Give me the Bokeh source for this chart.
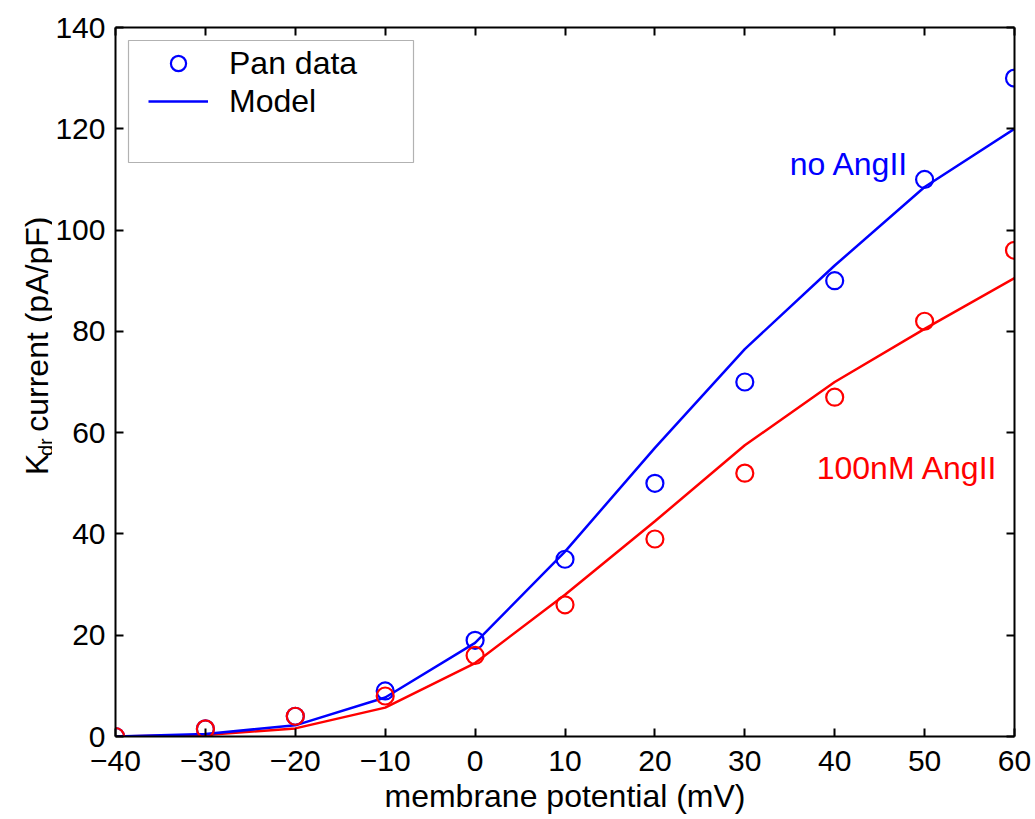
import math
from bokeh.plotting import figure
from bokeh.layouts import row
from bokeh.models import (Range1d, LinearAxis, FixedTicker, Legend, LegendItem,
                          BoxAnnotation, Label)
from bokeh.embed import file_html
from bokeh.resources import INLINE

# ---- data ----
voltage = [-40, -30, -20, -10, 0, 10, 20, 30, 40, 50, 60]
pan_no_angii = [0, 1.5, 4, 9, 19, 35, 50, 70, 90, 110, 130]
pan_angii = [0, 1.5, 4, 8, 16, 26, 39, 52, 67, 82, 96]
model_no_angii = [0, 0.5, 2.2, 7.7, 18.5, 36.5, 57, 76.5, 93, 108.5, 120]
model_angii = [0, 0.3, 1.6, 5.7, 14.5, 28, 42.5, 57.5, 70, 80.5, 90.5]

x_ticks = [-40, -30, -20, -10, 0, 10, 20, 30, 40, 50, 60]
x_tick_labels = ["\u221240", "\u221230", "\u221220", "\u221210", "0", "10", "20", "30", "40", "50", "60"]
y_ticks = [0, 20, 40, 60, 80, 100, 120, 140]
y_tick_labels = ["0", "20", "40", "60", "80", "100", "120", "140"]

legend_labels = ["Pan data", "Model"]
note_no = "no AngII"
note_ang = "100nM AngII"
x_label = "membrane potential (mV)"
y_label_main = "K"
y_label_sub = "dr"
y_label_rest = "current (pA/pF)"

BLUE = "#0000ff"
RED = "#ff0000"
FONT = "Liberation Sans"
W, H = 1035, 819
LABEL_W = 52

# ---- narrow strip that carries the y-axis title (K_dr current (pA/pF)) ----
lab = figure(width=LABEL_W, height=H, output_backend="svg", toolbar_location=None,
             x_range=Range1d(0, LABEL_W), y_range=Range1d(0, H),
             min_border=0, x_axis_location=None, y_axis_location=None)
lab.outline_line_color = None
lab.xgrid.visible = False
lab.ygrid.visible = False
lab.border_fill_color = "white"
lab.background_fill_color = "white"
ang = math.pi / 2
for txt, bx, sy, fs in [(y_label_main, 36, H - 517, "32px"),
                        (y_label_sub, 45, H - 495, "20px"),
                        (y_label_rest, 36, H - 467, "32px")]:
    lab.add_layout(Label(x=bx, y=sy, angle=ang, text=txt, text_font=FONT,
                         text_font_size=fs, text_color="black",
                         text_baseline="alphabetic", text_align="left"))

# ---- main plot ----
p = figure(width=W - LABEL_W, height=H, output_backend="svg", toolbar_location=None,
           x_range=Range1d(-40, 60), y_range=Range1d(0, 140),
           min_border_left=115 - LABEL_W, min_border_right=21,
           min_border_top=27, min_border_bottom=83,
           x_axis_location=None, y_axis_location=None)
p.outline_line_color = None
p.xgrid.visible = False
p.ygrid.visible = False
p.background_fill_color = "white"
p.border_fill_color = "white"


def style_axis(ax, ticks, labels, show_labels):
    ax.ticker = FixedTicker(ticks=ticks)
    ax.major_label_overrides = {t: l for t, l in zip(ticks, labels)}
    ax.axis_line_width = 2
    ax.axis_line_color = "black"
    ax.major_tick_in = 8
    ax.major_tick_out = 0
    ax.major_tick_line_width = 2
    ax.major_tick_line_color = "black"
    ax.minor_tick_line_color = None
    ax.major_label_text_font = FONT
    ax.major_label_text_color = "black"
    if show_labels:
        ax.major_label_text_font_size = "30px"
    else:
        ax.major_label_text_font_size = "0px"
        ax.major_label_standoff = 0


xb = LinearAxis()
style_axis(xb, x_ticks, x_tick_labels, True)
xb.major_label_standoff = 14
xb.axis_label = x_label
xb.axis_label_text_font = FONT
xb.axis_label_text_font_size = "32px"
xb.axis_label_text_font_style = "normal"
xb.axis_label_text_color = "black"
xb.axis_label_standoff = 4
p.add_layout(xb, "below")

yl = LinearAxis()
style_axis(yl, y_ticks, y_tick_labels, True)
yl.major_label_standoff = 10
p.add_layout(yl, "left")

xt = LinearAxis()
style_axis(xt, x_ticks, x_tick_labels, False)
p.add_layout(xt, "above")

yr = LinearAxis()
style_axis(yr, y_ticks, y_tick_labels, False)
p.add_layout(yr, "right")

# ---- data renderers ----
r_model_red = p.line(voltage, model_angii, line_color=RED, line_width=2.5)
r_model_blue = p.line(voltage, model_no_angii, line_color=BLUE, line_width=2.5)
r_pan_blue = p.scatter(voltage, pan_no_angii, marker="circle", size=17, fill_color=None,
                       line_color=BLUE, line_width=2.2)
r_pan_red = p.scatter(voltage, pan_angii, marker="circle", size=17, fill_color=None,
                      line_color=RED, line_width=2.2)

# ---- annotations ----
p.add_layout(Label(x=35, y=113, text=note_no, text_color=BLUE, text_font=FONT,
                   text_font_size="32px", text_baseline="alphabetic", text_align="left"))
p.add_layout(Label(x=38, y=53, text=note_ang, text_color=RED, text_font=FONT,
                   text_font_size="32px", text_baseline="alphabetic", text_align="left"))

# ---- legend ----
box = BoxAnnotation(left=13, right=298, top=696, bottom=574,
                    left_units="screen", right_units="screen",
                    top_units="screen", bottom_units="screen",
                    fill_color="white", fill_alpha=1.0, line_color="black", line_width=1.2)
p.add_layout(box)

legend = Legend(items=[LegendItem(label=legend_labels[0], renderers=[r_pan_blue]),
                       LegendItem(label=legend_labels[1], renderers=[r_model_blue])],
                location=(33, 616), margin=0, padding=0, spacing=0,
                glyph_width=60, glyph_height=38, label_height=38, label_standoff=21,
                label_text_font=FONT, label_text_font_size="32px", label_text_color="black",
                border_line_color=None, background_fill_alpha=0)
p.add_layout(legend)

layout = row(lab, p, spacing=0)
open("out.html", "w").write(file_html(layout, INLINE))
